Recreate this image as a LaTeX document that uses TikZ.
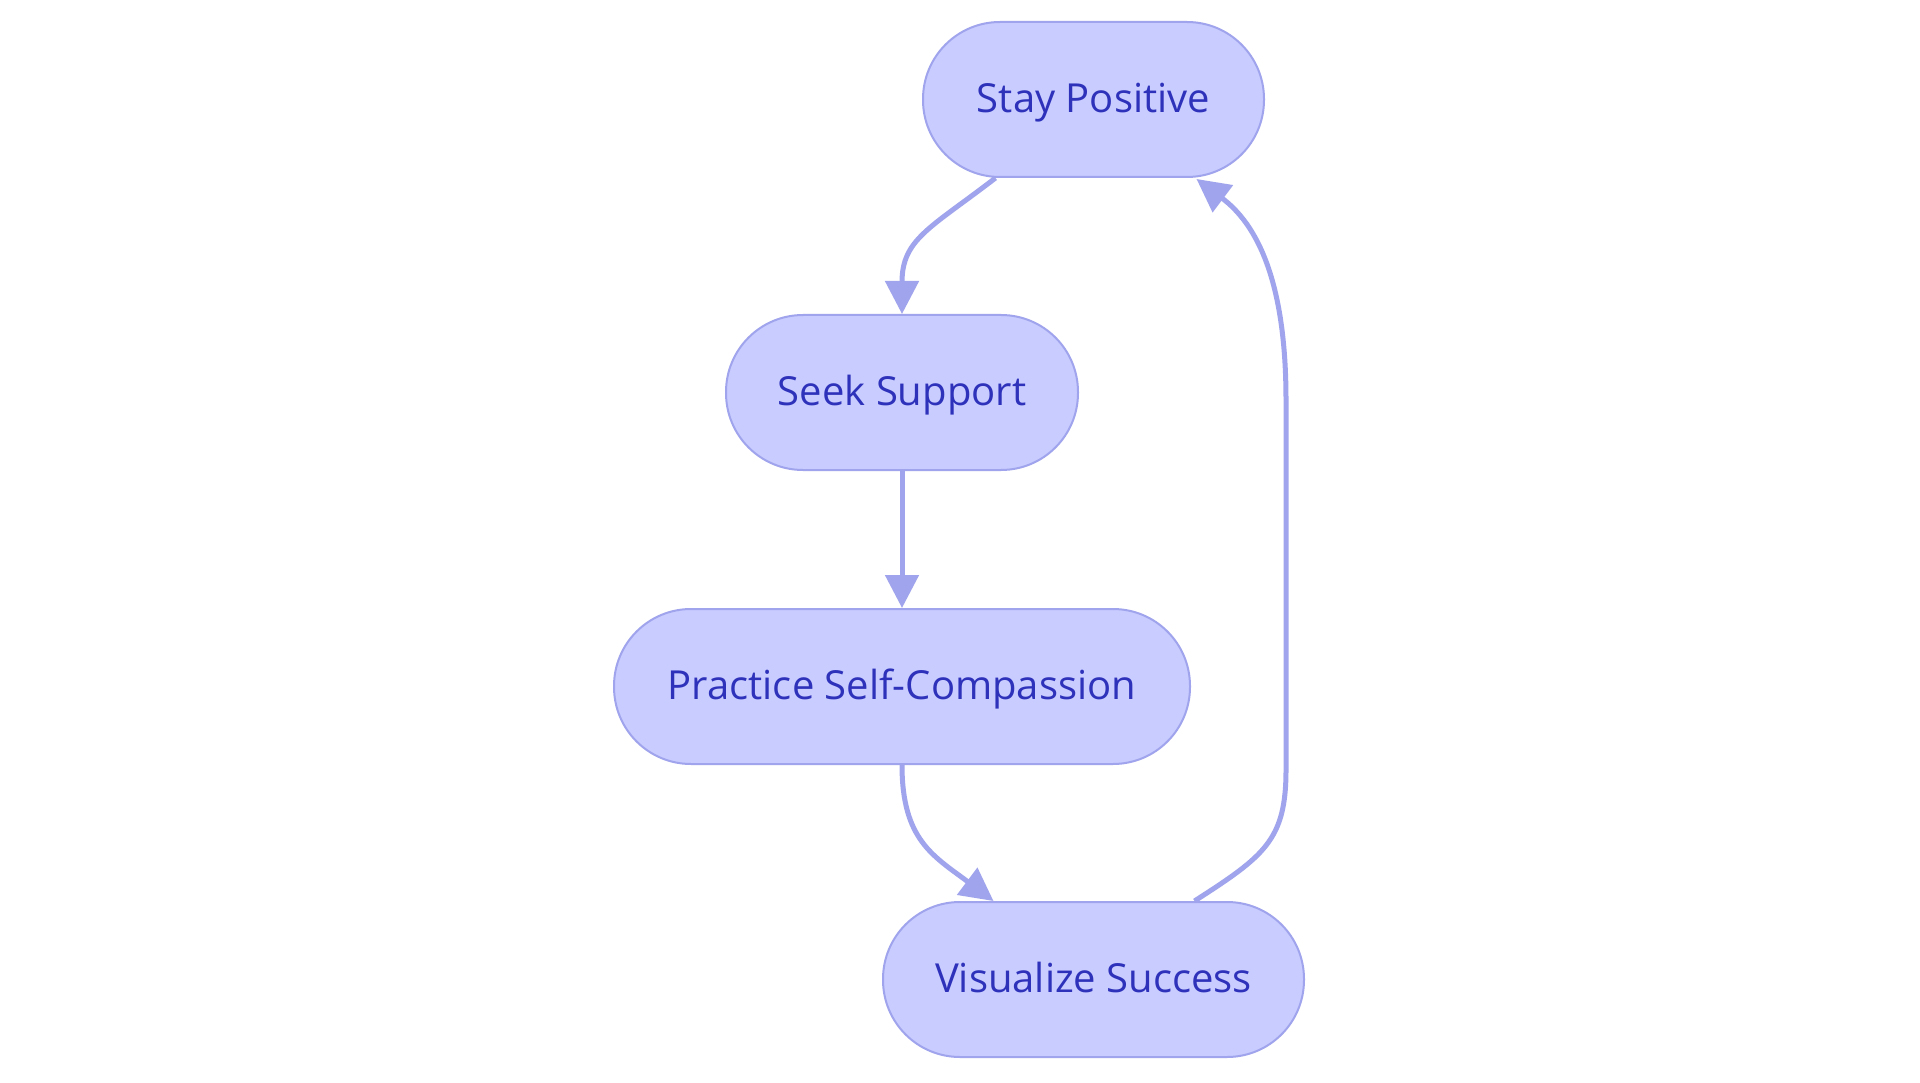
\documentclass[tikz,border=0pt]{standalone}
\usepackage{fontspec}
\setmainfont{Open Sans}
\usetikzlibrary{arrows.meta,calc}
\definecolor{nodefill}{RGB}{200,204,255}
\definecolor{nodeline}{RGB}{160,164,236}
\definecolor{nodetext}{RGB}{46,49,186}
\begin{document}
\begin{tikzpicture}[x=1pt,y=-1pt,
  stadium/.style={draw=nodeline,fill=nodefill,line width=2pt,rounded corners=77pt,
    minimum height=155pt,inner sep=0pt,text=nodetext,text height=32pt,text depth=6pt,
    font=\fontsize{40}{48}\selectfont},
  link/.style={draw=nodeline,line width=5pt,-{Triangle[length=33pt,width=33pt]}}]
\useasboundingbox (0,0) rectangle (1920,1083);
\fill[white] (0,0) rectangle (1920,1083);
\node[stadium,minimum width=341pt] (sp) at (1093.5,99.5) {Stay Positive};
\node[stadium,minimum width=352pt] (ss) at (902,392.5) {Seek Support};
\node[stadium,minimum width=576pt] (psc) at (902,686.5) {Practice Self-Compassion};
\node[stadium,minimum width=421pt] (vs) at (1093.5,979.5) {Visualize Success};
\coordinate (r1) at (1286,770);
\coordinate (r2) at (1286,400);
\draw[link] ($(sp.south)+(-98,0)$) .. controls +(-65,50) and +(0,-75) .. (ss.north);
\draw[link] (ss.south) -- (psc.north);
\draw[link] (psc.south) .. controls +(0,75) and +(-60,-45) .. ($(vs.north)+(-100,0)$);
\draw[link] ($(vs.north)+(101,0)$) .. controls +(70,-45) and +(0,70) .. (r1) -- (r2)
  .. controls +(0,-120) and +(60,45) .. ($(sp.south)+(103,1)$);
\end{tikzpicture}
\end{document}
